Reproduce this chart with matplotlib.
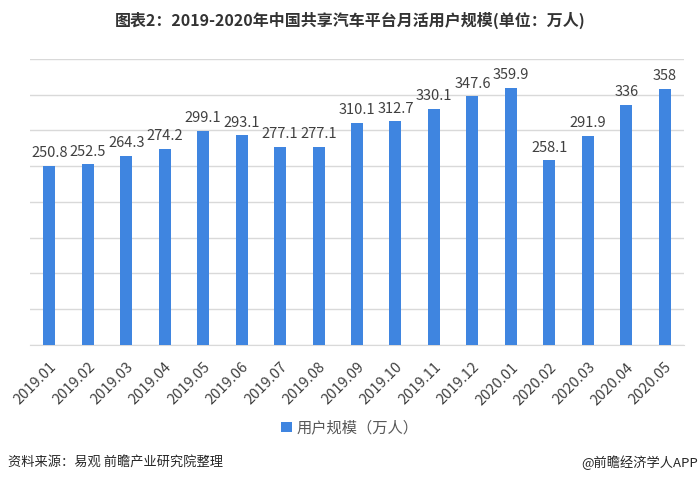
import numpy as np
import matplotlib.pyplot as plt

plt.rcParams['font.family'] = ['Noto Sans CJK SC', 'DejaVu Sans']

MONTHS = [
    "2019.01", "2019.02", "2019.03", "2019.04", "2019.05", "2019.06",
    "2019.07", "2019.08", "2019.09", "2019.10", "2019.11", "2019.12",
    "2020.01", "2020.02", "2020.03", "2020.04", "2020.05"
]
USERS = [
    250.8, 252.5, 264.3, 274.2, 299.1, 293.1, 277.1, 277.1, 310.1,
    312.7, 330.1, 347.6, 359.9, 258.1, 291.9, 336, 358
]
VALUE_LABELS = [
    "250.8", "252.5", "264.3", "274.2", "299.1", "293.1", "277.1", "277.1",
    "310.1", "312.7", "330.1", "347.6", "359.9", "258.1", "291.9", "336", "358"
]

TITLE = "图表2：2019-2020年中国共享汽车平台月活用户规模(单位：万人)"
SERIES_NAME = "用户规模（万人）"
SOURCE = "资料来源：易观 前瞻产业研究院整理"
CREDIT = "@前瞻经济学人APP"

BAR_COLOR = "#3F85E0"
GRID_COLOR = "#D9D9D9"
TEXT_COLOR = "#404040"

fig = plt.figure(figsize=(7, 4.83), dpi=100)
ax = fig.add_axes([0.043, 0.286, 0.934, 0.592])

x = np.arange(len(MONTHS))
bars = ax.bar(x, USERS, width=0.31, color=BAR_COLOR, zorder=3, label=SERIES_NAME)

# 数值标签
for xi, v, lab in zip(x, USERS, VALUE_LABELS):
    ax.text(xi, v + 8, lab, ha="center", va="bottom", fontsize=10.5,
            color=TEXT_COLOR)

ax.set_xlim(-0.5, len(MONTHS) - 0.5)
ax.set_ylim(0, 400)
ax.set_yticks(np.arange(0, 401, 50))
ax.yaxis.grid(True, color=GRID_COLOR, linewidth=1, zorder=0)
ax.tick_params(axis="y", left=False, labelleft=False)
ax.tick_params(axis="x", length=0, pad=11)
ax.set_xticks(x)
ax.set_xticklabels(MONTHS, rotation=45, ha="right", rotation_mode="anchor",
                   fontsize=10.5, color=TEXT_COLOR)

for side in ["top", "right", "left"]:
    ax.spines[side].set_visible(False)
ax.spines["bottom"].set_color(GRID_COLOR)

fig.text(0.5, 0.957, TITLE, ha="center", va="center", fontsize=11.5,
         fontweight="bold", color="#333333")

fig.legend(handles=[bars], labels=[SERIES_NAME], loc="center",
           bbox_to_anchor=(0.5, 0.114), frameon=False, fontsize=11,
           handlelength=0.7, handleheight=0.7, handletextpad=0.3,
           labelcolor="#595959")

fig.text(0.011, 0.043, SOURCE, ha="left", va="center", fontsize=9.5,
         color="#262626")
fig.text(0.997, 0.043, CREDIT, ha="right", va="center", fontsize=9.5,
         color="#262626")

fig.savefig("out.png", dpi=100)
